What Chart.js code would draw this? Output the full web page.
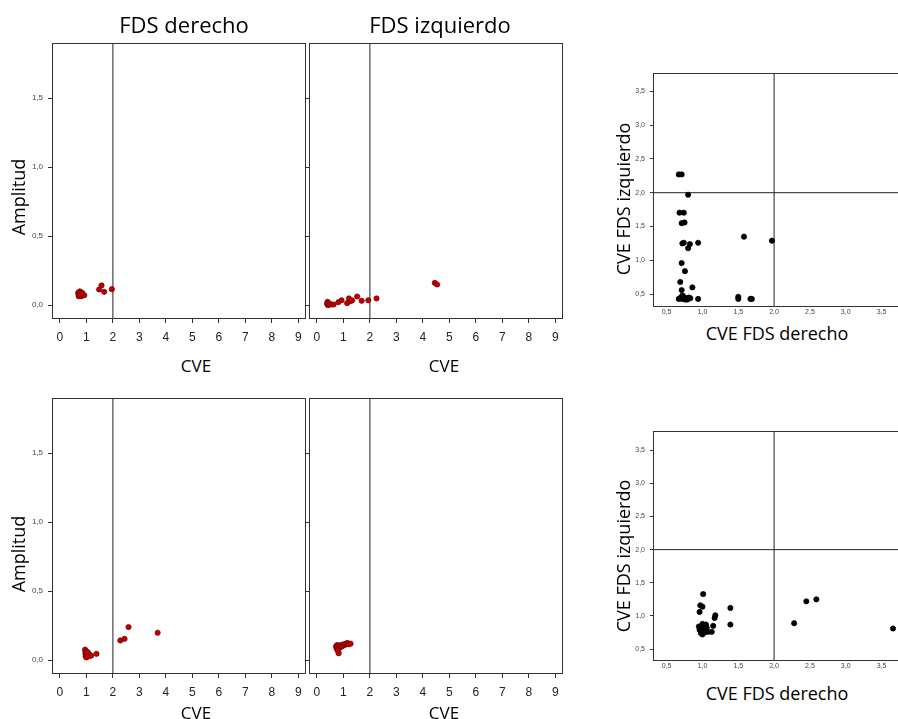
<!DOCTYPE html>
<html>
<head>
<meta charset="utf-8">
<script src="https://cdn.jsdelivr.net/npm/chart.js@4.4.1/dist/chart.umd.min.js"></script>
<style>
  body { margin: 0; width: 898px; height: 719px; overflow: hidden; background: #fff; position: relative; font-family: "Open Sans", sans-serif; }
  canvas { position: absolute; }
  .lbl { position: absolute; white-space: nowrap; color: #000; transform: translate(-50%, -50%); line-height: 1; }
  .rot { transform: translate(-50%, -50%) rotate(-90deg); }
</style>
</head>
<body>
<canvas id="derSup" width="311" height="318" style="left:0px;top:31px"></canvas>
<canvas id="izqSup" width="267" height="318" style="left:301px;top:31px"></canvas>
<canvas id="derInf" width="311" height="318" style="left:0px;top:386px"></canvas>
<canvas id="izqInf" width="267" height="318" style="left:301px;top:386px"></canvas>
<canvas id="cruSup" width="287" height="260" style="left:623px;top:61px"></canvas>
<canvas id="cruInf" width="287" height="256" style="left:623px;top:419px"></canvas>

<div class="lbl" style="left:184px;top:24px;font-size:22px">FDS derecho</div>
<div class="lbl" style="left:440px;top:24px;font-size:22px">FDS izquierdo</div>
<div class="lbl rot" style="left:18px;top:197px;font-size:18px">Amplitud</div>
<div class="lbl rot" style="left:18px;top:554px;font-size:18px">Amplitud</div>
<div class="lbl" style="left:196px;top:365px;font-size:17px">CVE</div>
<div class="lbl" style="left:444px;top:365px;font-size:17px">CVE</div>
<div class="lbl" style="left:196px;top:712px;font-size:17px">CVE</div>
<div class="lbl" style="left:444px;top:712px;font-size:17px">CVE</div>
<div class="lbl rot" style="left:623px;top:199px;font-size:18px">CVE FDS izquierdo</div>
<div class="lbl rot" style="left:623px;top:556px;font-size:18px">CVE FDS izquierdo</div>
<div class="lbl" style="left:777px;top:333px;font-size:18px">CVE FDS derecho</div>
<div class="lbl" style="left:777px;top:693px;font-size:18px">CVE FDS derecho</div>

<script>
// ticks
const cveTicks = [0, 1, 2, 3, 4, 5, 6, 7, 8, 9];
const ampTicks = [0, 0.5, 1.0, 1.5];
const cruceTicks = [0.5, 1.0, 1.5, 2.0, 2.5, 3.0, 3.5];
const corte = 2;

// fila 1, FDS derecho: CVE / amplitud
const derSupX = [0.70, 0.72, 0.74, 0.76, 0.78, 0.80, 0.82, 0.71, 0.75, 0.79, 0.83, 0.73, 0.77, 0.81, 0.86, 0.92, 0.69, 0.74, 0.78, 0.84, 1.48, 1.57, 1.67, 1.96];
const derSupY = [0.08, 0.09, 0.07, 0.085, 0.095, 0.08, 0.075, 0.065, 0.10, 0.07, 0.09, 0.075, 0.085, 0.065, 0.08, 0.072, 0.09, 0.095, 0.078, 0.085, 0.114, 0.143, 0.097, 0.116];

// fila 1, FDS izquierdo
const izqSupX = [0.38, 0.40, 0.42, 0.44, 0.48, 0.55, 0.63, 0.81, 0.93, 1.14, 1.21, 1.27, 1.33, 1.52, 1.69, 1.94, 2.25, 4.45, 4.54];
const izqSupY = [0.010, 0.025, 0.000, 0.015, 0.010, 0.005, 0.005, 0.022, 0.036, 0.015, 0.049, 0.030, 0.035, 0.063, 0.032, 0.036, 0.049, 0.162, 0.150];

// fila 2, FDS derecho
const derInfX = [0.95, 0.96, 0.97, 0.98, 1.00, 1.02, 1.03, 1.05, 1.08, 1.10, 1.12, 1.18, 0.97, 1.00, 1.04, 1.38, 2.28, 2.44, 2.59, 3.69];
const derInfY = [0.077, 0.050, 0.029, 0.060, 0.040, 0.055, 0.035, 0.045, 0.050, 0.040, 0.030, 0.034, 0.065, 0.020, 0.060, 0.046, 0.143, 0.155, 0.240, 0.199];

// fila 2, FDS izquierdo
const izqInfX = [0.72, 0.74, 0.76, 0.78, 0.80, 0.81, 0.83, 0.86, 0.90, 0.95, 1.00, 1.05, 1.10, 1.15, 1.20, 1.27, 0.79, 0.82];
const izqInfY = [0.100, 0.085, 0.110, 0.095, 0.075, 0.060, 0.105, 0.090, 0.110, 0.100, 0.115, 0.110, 0.120, 0.125, 0.115, 0.120, 0.070, 0.050];

// fila 1, CVE derecho vs izquierdo
const cruSupX = [0.67, 0.71, 0.80, 0.68, 0.74, 0.71, 0.75, 0.72, 0.74, 0.825, 0.80, 0.94, 0.71, 0.756, 0.69, 0.71, 0.86,
                 0.67, 0.69, 0.70, 0.72, 0.73, 0.75, 0.77, 0.79, 0.81, 0.83, 0.94, 1.50, 1.50, 1.67, 1.69, 1.58, 1.97, 0.72, 0.76];
const cruSupY = [2.27, 2.27, 1.97, 1.705, 1.705, 1.55, 1.56, 1.25, 1.26, 1.24, 1.18, 1.26, 0.96, 0.84, 0.68, 0.56, 0.60,
                 0.43, 0.44, 0.45, 0.43, 0.47, 0.43, 0.44, 0.42, 0.45, 0.44, 0.43, 0.46, 0.43, 0.43, 0.43, 1.35, 1.29, 0.48, 0.42];

// fila 2, CVE derecho vs izquierdo
const cruInfX = [1.01, 0.97, 1.00, 0.96, 1.18, 1.17, 1.39, 1.39, 1.15,
                 0.95, 0.97, 0.99, 1.00, 1.02, 1.04, 1.06, 0.98, 1.01, 1.03, 0.96, 1.00, 1.05, 0.97, 1.02, 1.08, 1.13,
                 2.28, 2.45, 2.59, 3.66];
const cruInfY = [1.33, 1.16, 1.14, 1.06, 1.01, 0.97, 1.12, 0.87, 0.85,
                 0.84, 0.80, 0.76, 0.88, 0.78, 0.86, 0.82, 0.74, 0.83, 0.75, 0.79, 0.72, 0.87, 0.81, 0.77, 0.76, 0.76,
                 0.89, 1.22, 1.25, 0.81];

const coma = v => v.toFixed(1).replace('.', ',');

const caja = {
  id: 'caja',
  afterDatasetsDraw(chart) {
    const a = chart.chartArea;
    const ctx = chart.ctx;
    ctx.save();
    ctx.strokeStyle = '#333';
    ctx.lineWidth = 1;
    ctx.strokeRect(Math.round(a.left) + 0.5, Math.round(a.top) + 0.5,
                   Math.round(a.right - a.left) - 1, Math.round(a.bottom - a.top) - 1);
    ctx.restore();
  }
};

function dibujar(id, xs, ys, cfg) {
  const puntos = xs.map((x, i) => ({ x: x, y: ys[i] }));
  const lineas = [{
    type: 'line',
    data: [{ x: corte, y: cfg.yMin }, { x: corte, y: cfg.yMax }],
    borderColor: '#222', borderWidth: 1, pointRadius: 0
  }];
  if (cfg.horizontal) {
    lineas.push({
      type: 'line',
      data: [{ x: cfg.xMin, y: corte }, { x: cfg.xMax, y: corte }],
      borderColor: '#222', borderWidth: 1, pointRadius: 0
    });
  }
  new Chart(document.getElementById(id), {
    type: 'scatter',
    data: {
      datasets: [{
        data: puntos,
        backgroundColor: cfg.relleno,
        borderColor: cfg.borde,
        borderWidth: 0.8,
        pointRadius: 2.6
      }].concat(lineas)
    },
    options: {
      responsive: false,
      animation: false,
      layout: { padding: { top: 12, right: cfg.derecha, left: 0, bottom: 0 } },
      plugins: { legend: { display: false }, tooltip: { enabled: false } },
      scales: {
        x: {
          type: 'linear', min: cfg.xMin, max: cfg.xMax,
          afterBuildTicks: s => { s.ticks = cfg.xTicks.map(v => ({ value: v })); },
          afterFit: s => { s.height = cfg.xAlto; },
          border: { display: false },
          grid: { drawOnChartArea: false, drawTicks: cfg.xLargo > 0, tickLength: cfg.xLargo, color: '#333' },
          ticks: {
            autoSkip: false, maxRotation: 0, padding: cfg.xPad,
            color: cfg.xColor, font: { family: 'Liberation Sans', size: cfg.xFuente },
            callback: v => cfg.xComa ? coma(v) : String(v)
          }
        },
        y: {
          type: 'linear', min: cfg.yMin, max: cfg.yMax,
          afterBuildTicks: s => { s.ticks = cfg.yTicks.map(v => ({ value: v })); },
          afterFit: s => { s.width = cfg.yAncho; },
          border: { display: false },
          grid: { drawOnChartArea: false, tickLength: cfg.yLargo, color: '#333' },
          ticks: {
            padding: cfg.yPad,
            color: cfg.yEtiquetas ? '#444' : 'rgba(0,0,0,0)',
            font: { family: 'Liberation Sans', size: cfg.yFuente },
            callback: v => coma(v)
          }
        }
      }
    },
    plugins: [caja]
  });
}

const rojo = { relleno: '#c00000', borde: '#7a0000' };
const base = {
  xMin: -0.3, xMax: 9.3, yMin: -0.1, yMax: 1.9,
  xTicks: cveTicks, yTicks: ampTicks,
  xAlto: 30, xLargo: 4, xPad: 7, xFuente: 12, xColor: '#222', xComa: false,
  yLargo: 4, yPad: 5, yFuente: 8, derecha: 4
};
dibujar('derSup', derSupX, derSupY, Object.assign({}, base, rojo, { yAncho: 52, yEtiquetas: true }));
dibujar('izqSup', izqSupX, izqSupY, Object.assign({}, base, rojo, { yAncho: 8, yEtiquetas: false }));
dibujar('derInf', derInfX, derInfY, Object.assign({}, base, rojo, { yAncho: 52, yEtiquetas: true }));
dibujar('izqInf', izqInfX, izqInfY, Object.assign({}, base, rojo, { yAncho: 8, yEtiquetas: false }));

const negro = { relleno: '#000', borde: '#000' };
const cruce = {
  xMin: 0.31, xMax: 3.83, horizontal: true,
  xTicks: cruceTicks, yTicks: cruceTicks,
  xAlto: 14, xLargo: 0, xPad: 1, xFuente: 7, xColor: '#444', xComa: true,
  yAncho: 30, yLargo: 3, yPad: 5, yFuente: 7, yEtiquetas: true, derecha: 0
};
dibujar('cruSup', cruSupX, cruSupY, Object.assign({}, cruce, negro, { yMin: 0.31, yMax: 3.77 }));
dibujar('cruInf', cruInfX, cruInfY, Object.assign({}, cruce, negro, { yMin: 0.32, yMax: 3.79 }));
</script>
</body>
</html>
